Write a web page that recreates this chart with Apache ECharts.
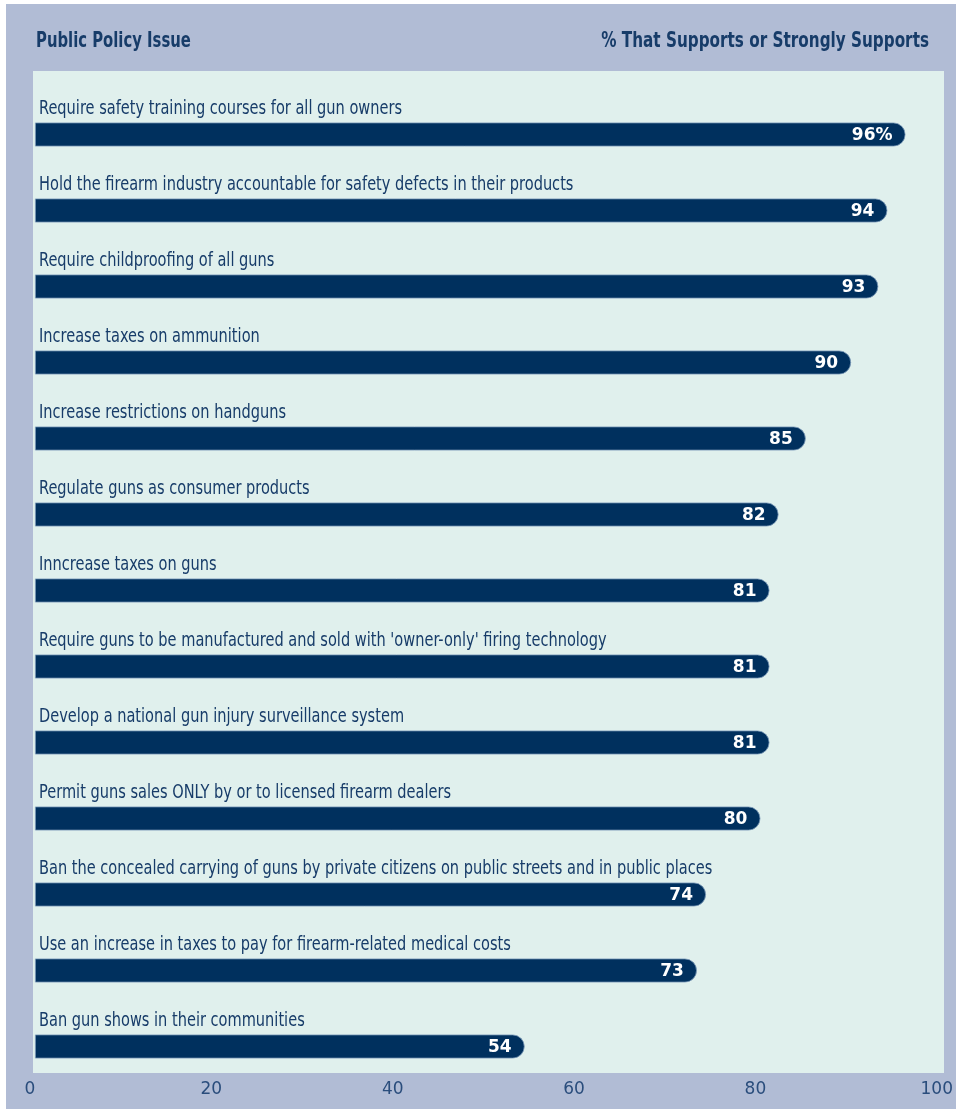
<!DOCTYPE html>
<html>
<head>
<meta charset="utf-8">
<script src="https://cdn.jsdelivr.net/npm/echarts@6/dist/echarts.min.js"></script>
<style>
html,body{margin:0;padding:0;background:#ffffff;}
#chart{width:956px;height:1109px;}
</style>
</head>
<body>
<div id="chart"></div>
<script>
const categories = [
  "Require safety training courses for all gun owners",
  "Hold the firearm industry accountable for safety defects in their products",
  "Require childproofing of all guns",
  "Increase taxes on ammunition",
  "Increase restrictions on handguns",
  "Regulate guns as consumer products",
  "Inncrease taxes on guns",
  "Require guns to be manufactured and sold with 'owner-only' firing technology",
  "Develop a national gun injury surveillance system",
  "Permit guns sales ONLY by or to licensed firearm dealers",
  "Ban the concealed carrying of guns by private citizens on public streets and in public places",
  "Use an increase in taxes to pay for firearm-related medical costs",
  "Ban gun shows in their communities"
];
const values = [96, 94, 93, 90, 85, 82, 81, 81, 81, 80, 74, 73, 54];
const xTicks = [0, 20, 40, 60, 80, 100];
const headerLeft = "Public Policy Issue";
const headerRight = "% That Supports or Strongly Supports";

const NAVY = "#00305e";
const TEXT = "#173c69";
const condensed = "'Liberation Sans Narrow', 'DejaVu Sans Condensed', 'Arial Narrow', sans-serif";

const chart = echarts.init(document.getElementById('chart'));
const baseGraphic = [
  { type: 'rect', shape: { x: 6, y: 4, width: 950, height: 1105 }, style: { fill: '#b1bcd5' }, z: -10 },
  { type: 'rect', shape: { x: 33, y: 71, width: 911, height: 1002 }, style: { fill: '#e0f0ed' }, z: -9 },
  { type: 'text', x: 36, y: 41.5, scaleX: 0.75,
    style: { text: headerLeft, fill: TEXT, font: "bold 22px " + condensed, align: 'left', verticalAlign: 'middle' } },
  { type: 'text', x: 929, y: 41.5, scaleX: 0.77,
    style: { text: headerRight, fill: TEXT, font: "bold 22px " + condensed, align: 'right', verticalAlign: 'middle' } }
];
chart.setOption({
  backgroundColor: '#ffffff',
  animation: false,
  graphic: baseGraphic,
  grid: { left: 35, width: 907, top: 96.5, height: 988, containLabel: false },
  xAxis: {
    type: 'value', min: 0, max: 100, interval: 20,
    axisLine: { show: false }, axisTick: { show: false }, splitLine: { show: false },
    axisLabel: {
      margin: -3, color: '#2a4d7c', fontSize: 17, fontFamily: "'DejaVu Sans', Verdana, sans-serif",
      padding: [0, 10, 0, 0],
      formatter: v => xTicks.includes(v) ? String(v) : ''
    }
  },
  yAxis: {
    type: 'category', data: categories, inverse: true,
    axisLine: { show: false }, axisTick: { show: false }, splitLine: { show: false },
    axisLabel: { show: false }
  },
  series: [{
    type: 'bar',
    data: values,
    barWidth: 24,
    itemStyle: { color: NAVY, borderColor: '#7f9dbb', borderWidth: 0.8, borderRadius: [0, 12, 12, 0] },
    label: {
      show: true, position: 'insideRight', distance: 13, offset: [0, 1],
      color: '#ffffff', fontWeight: 'bold', fontSize: 17,
      fontFamily: "'DejaVu Sans', Verdana, sans-serif",
      formatter: p => p.dataIndex === 0 ? p.value + '%' : String(p.value)
    }
  }]
});

// Category labels placed above each bar, positioned via the chart's own scales
const x0 = chart.convertToPixel({ xAxisIndex: 0 }, 0);
const labelGraphic = categories.map((c, i) => {
  const yc = chart.convertToPixel({ yAxisIndex: 0 }, i);
  return {
    type: 'text', x: x0 + 4, y: yc - 26, scaleX: 0.81,
    style: { text: c, fill: TEXT, font: "20px " + condensed, align: 'left', verticalAlign: 'middle' }
  };
});
chart.setOption({ graphic: baseGraphic.concat(labelGraphic) });
</script>
</body>
</html>
